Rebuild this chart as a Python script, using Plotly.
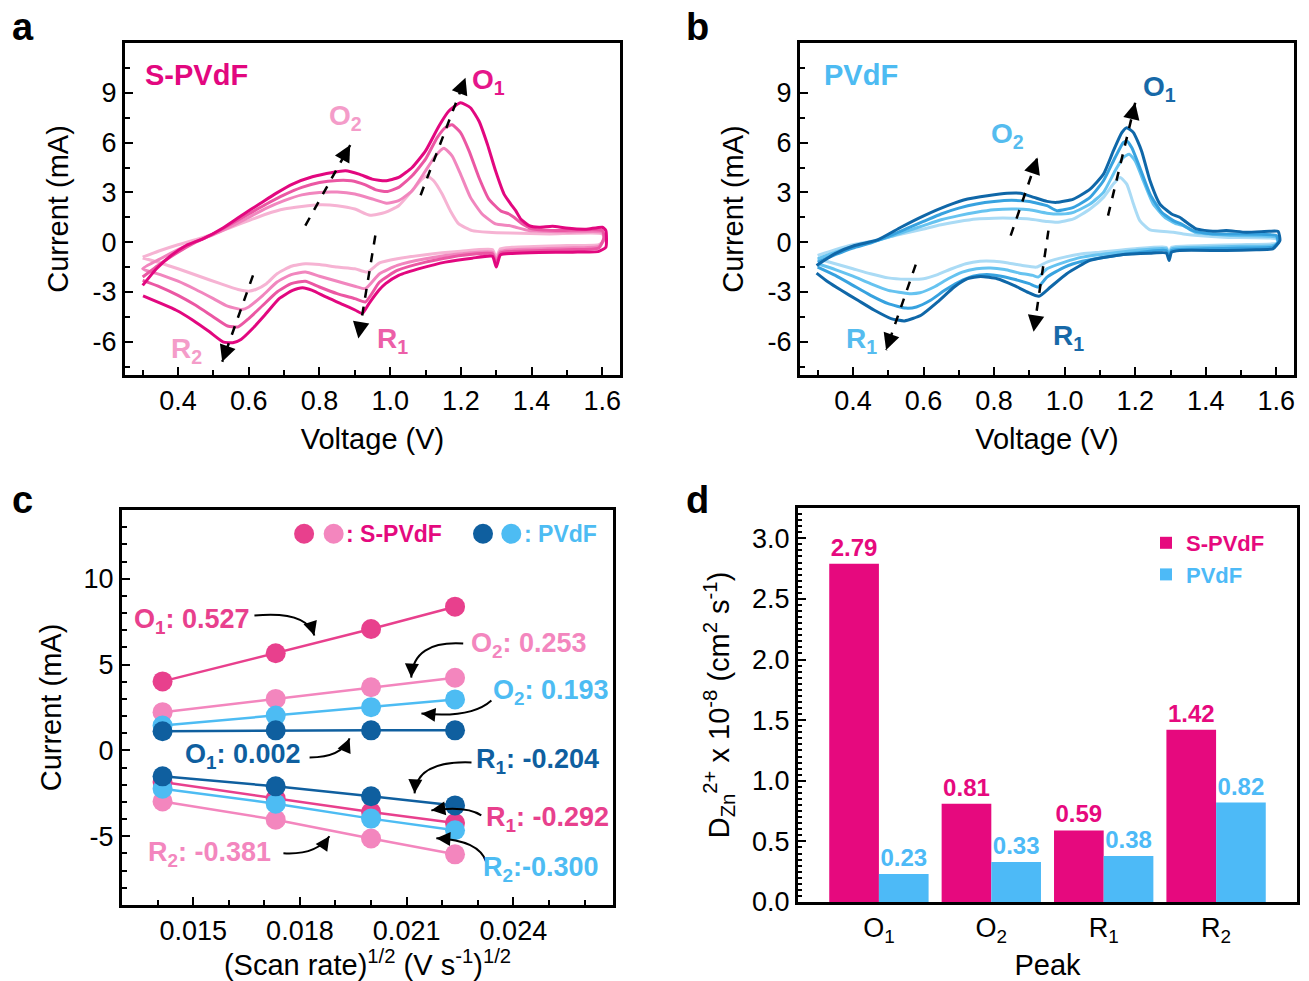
import plotly.graph_objects as go

FONT = "Liberation Sans, Arial, Helvetica, sans-serif"

# ---------------- Panel a : S-PVdF cyclic voltammograms (V, mA) ----------------
a_curve_02 = [(0.300, -0.9), (0.350, -0.5), (0.400, -0.15), (0.450, 0.15), (0.500, 0.5), (0.550, 0.9),
              (0.600, 1.3), (0.650, 1.7), (0.700, 2.0), (0.750, 2.15), (0.800, 2.25), (0.850, 2.2),
              (0.900, 2.0), (0.943, 1.62), (0.986, 1.8), (1.024, 2.2), (1.062, 3.1), (1.090, 3.8),
              (1.104, 4.0), (1.123, 3.7), (1.147, 2.9), (1.170, 1.9), (1.194, 1.1), (1.232, 0.7),
              (1.279, 0.6), (1.340, 0.55), (1.450, 0.5), (1.600, 0.5),
              (1.605, 0.1), (1.590, -0.15), (1.500, -0.2), (1.350, -0.3), (1.312, -0.4), (1.300, -0.9),
              (1.289, -0.45), (1.200, -0.55), (1.100, -0.75), (1.020, -1.0), (0.970, -1.25), (0.935, -1.8),
              (0.900, -1.6), (0.850, -1.5), (0.800, -1.35), (0.760, -1.3), (0.720, -1.45), (0.680, -1.9),
              (0.650, -2.5), (0.620, -2.85), (0.600, -2.95), (0.570, -2.85), (0.520, -2.5), (0.460, -2.05),
              (0.400, -1.6), (0.350, -1.25), (0.300, -0.95)]
a_curve_03 = [(0.300, -1.6), (0.350, -1.0), (0.400, -0.45), (0.450, 0.05), (0.500, 0.45), (0.550, 0.95),
              (0.600, 1.5), (0.650, 2.05), (0.700, 2.5), (0.750, 2.85), (0.800, 3.0), (0.850, 3.02),
              (0.900, 2.9), (0.950, 2.6), (0.990, 2.35), (1.024, 2.5), (1.062, 3.1), (1.100, 4.3),
              (1.128, 5.2), (1.152, 5.66), (1.175, 5.2), (1.199, 4.1), (1.227, 2.7), (1.260, 1.7),
              (1.298, 1.1), (1.336, 1.0), (1.355, 0.9), (1.393, 0.7), (1.500, 0.62), (1.600, 0.6),
              (1.605, 0.2), (1.590, -0.25), (1.500, -0.35), (1.350, -0.45), (1.312, -0.55), (1.300, -1.1),
              (1.289, -0.6), (1.200, -0.7), (1.100, -1.0), (1.020, -1.4), (0.970, -1.9), (0.930, -2.8),
              (0.900, -2.65), (0.850, -2.35), (0.800, -2.05), (0.760, -1.8), (0.720, -1.95), (0.680, -2.4),
              (0.640, -3.2), (0.600, -3.9), (0.580, -4.05), (0.540, -3.85), (0.500, -3.4), (0.450, -2.85),
              (0.400, -2.35), (0.350, -1.95), (0.300, -1.6)]
a_curve_04 = [(0.300, -2.1), (0.350, -1.3), (0.400, -0.6), (0.450, 0.0), (0.500, 0.5), (0.550, 1.1),
              (0.600, 1.7), (0.650, 2.3), (0.700, 2.85), (0.750, 3.3), (0.800, 3.6), (0.850, 3.72),
              (0.890, 3.7), (0.930, 3.45), (0.960, 3.15), (0.990, 3.05), (1.024, 3.3), (1.062, 4.0),
              (1.100, 5.0), (1.133, 6.3), (1.156, 6.9), (1.175, 7.07), (1.199, 6.6), (1.223, 5.5),
              (1.251, 3.9), (1.279, 2.6), (1.312, 1.9), (1.336, 1.7), (1.350, 1.5), (1.374, 1.1),
              (1.402, 0.8), (1.468, 0.7), (1.600, 0.7),
              (1.605, 0.3), (1.590, -0.35), (1.500, -0.45), (1.350, -0.55), (1.312, -0.65), (1.300, -1.3),
              (1.289, -0.7), (1.200, -0.8), (1.100, -1.2), (1.020, -1.7), (0.970, -2.4), (0.930, -3.6),
              (0.900, -3.4), (0.850, -3.1), (0.800, -2.7), (0.760, -2.35), (0.720, -2.5), (0.680, -3.0),
              (0.640, -3.8), (0.600, -4.6), (0.570, -5.1), (0.540, -5.05), (0.500, -4.5), (0.450, -3.8),
              (0.400, -3.2), (0.350, -2.7), (0.300, -2.3)]
a_curve_05 = [(0.300, -2.6), (0.339, -1.6), (0.377, -0.86), (0.423, -0.2), (0.470, 0.2), (0.527, 0.86),
              (0.583, 1.66), (0.630, 2.3), (0.677, 2.94), (0.724, 3.5), (0.780, 3.94), (0.837, 4.2),
              (0.874, 4.3), (0.912, 4.1), (0.949, 3.8), (0.986, 3.7), (1.024, 3.9), (1.062, 4.5),
              (1.100, 5.5), (1.138, 7.0), (1.166, 7.9), (1.199, 8.4), (1.227, 8.1), (1.251, 7.3),
              (1.275, 5.9), (1.298, 4.3), (1.322, 2.9), (1.341, 2.3), (1.355, 1.9), (1.369, 1.4),
              (1.393, 1.0), (1.421, 0.9), (1.459, 0.96), (1.497, 0.85), (1.554, 0.78), (1.600, 0.9),
              (1.610, 0.7), (1.610, -0.3), (1.590, -0.55), (1.516, -0.6), (1.421, -0.62), (1.345, -0.68),
              (1.312, -0.76), (1.300, -1.5), (1.289, -0.85), (1.232, -0.96), (1.156, -1.2), (1.090, -1.55),
              (1.024, -2.0), (0.987, -2.5), (0.968, -2.9), (0.940, -3.7), (0.921, -4.3), (0.902, -4.1),
              (0.865, -3.74), (0.818, -3.3), (0.780, -2.9), (0.752, -2.74), (0.724, -2.9), (0.686, -3.4),
              (0.649, -4.3), (0.611, -5.2), (0.578, -5.86), (0.555, -6.06), (0.527, -6.0), (0.489, -5.4),
              (0.442, -4.7), (0.395, -4.1), (0.348, -3.66), (0.301, -3.24)]

# ---------------- Panel b : PVdF cyclic voltammograms (V, mA) ----------------
b_curve_02 = [(0.300, -0.8), (0.350, -0.45), (0.400, -0.15), (0.450, 0.05), (0.500, 0.3), (0.550, 0.55),
              (0.600, 0.8), (0.650, 1.05), (0.700, 1.25), (0.750, 1.4), (0.800, 1.45), (0.850, 1.45),
              (0.900, 1.4), (0.950, 1.25), (0.978, 1.2), (1.025, 1.4), (1.072, 2.0), (1.110, 2.7),
              (1.138, 3.5), (1.157, 3.9), (1.176, 3.5), (1.195, 2.3), (1.213, 1.3), (1.242, 0.74),
              (1.308, 0.6), (1.336, 0.5), (1.450, 0.3), (1.600, 0.2),
              (1.605, -0.05), (1.590, -0.1), (1.500, -0.15), (1.400, -0.2), (1.303, -0.3), (1.296, -0.65),
              (1.288, -0.3), (1.200, -0.4), (1.100, -0.6), (1.050, -0.7), (1.000, -0.9), (0.950, -1.2),
              (0.920, -1.5), (0.880, -1.4), (0.840, -1.25), (0.800, -1.15), (0.760, -1.15), (0.720, -1.3),
              (0.680, -1.6), (0.640, -1.95), (0.600, -2.2), (0.550, -2.23), (0.500, -2.15), (0.450, -1.9),
              (0.400, -1.6), (0.350, -1.3), (0.300, -1.0)]
b_curve_03 = [(0.300, -1.0), (0.350, -0.6), (0.400, -0.25), (0.450, 0.0), (0.500, 0.3), (0.550, 0.65),
              (0.600, 1.0), (0.650, 1.35), (0.700, 1.6), (0.750, 1.8), (0.800, 1.95), (0.850, 2.0),
              (0.900, 1.95), (0.950, 1.75), (0.990, 1.7), (1.025, 1.8), (1.072, 2.3), (1.110, 3.0),
              (1.143, 4.3), (1.166, 5.1), (1.183, 5.3), (1.200, 4.9), (1.223, 3.7), (1.251, 2.3),
              (1.284, 1.5), (1.317, 1.1), (1.336, 1.0), (1.369, 0.6), (1.480, 0.4), (1.600, 0.3),
              (1.605, -0.05), (1.590, -0.2), (1.500, -0.25), (1.400, -0.3), (1.303, -0.4), (1.296, -0.8),
              (1.288, -0.4), (1.200, -0.5), (1.100, -0.75), (1.050, -0.9), (1.000, -1.2), (0.950, -1.6),
              (0.925, -2.1), (0.910, -2.0), (0.870, -1.85), (0.830, -1.65), (0.790, -1.55), (0.750, -1.6),
              (0.710, -1.8), (0.670, -2.2), (0.630, -2.7), (0.590, -3.05), (0.560, -3.1), (0.500, -2.9),
              (0.450, -2.5), (0.400, -2.05), (0.350, -1.65), (0.300, -1.3)]
b_curve_04 = [(0.300, -1.2), (0.350, -0.75), (0.400, -0.35), (0.450, -0.05), (0.500, 0.35), (0.550, 0.8),
              (0.600, 1.25), (0.650, 1.7), (0.700, 2.05), (0.750, 2.3), (0.800, 2.45), (0.850, 2.52),
              (0.900, 2.45), (0.950, 2.2), (0.978, 1.9), (1.025, 2.1), (1.072, 2.7), (1.110, 3.7),
              (1.143, 5.1), (1.166, 6.0), (1.176, 6.1), (1.190, 5.7), (1.213, 4.5), (1.242, 2.9),
              (1.275, 1.8), (1.308, 1.3), (1.330, 1.1), (1.364, 0.7), (1.420, 0.5), (1.600, 0.4),
              (1.605, 0.0), (1.590, -0.3), (1.500, -0.35), (1.400, -0.4), (1.303, -0.5), (1.296, -0.95),
              (1.288, -0.5), (1.200, -0.65), (1.100, -0.95), (1.050, -1.15), (1.000, -1.5), (0.950, -2.1),
              (0.925, -2.7), (0.900, -2.5), (0.860, -2.25), (0.820, -2.05), (0.780, -1.95), (0.740, -2.05),
              (0.700, -2.4), (0.660, -2.9), (0.620, -3.5), (0.580, -3.9), (0.550, -3.97), (0.500, -3.7),
              (0.450, -3.2), (0.400, -2.6), (0.350, -2.0), (0.300, -1.5)]
b_curve_05 = [(0.297, -1.4), (0.348, -0.7), (0.405, -0.2), (0.470, 0.14), (0.536, 0.9), (0.602, 1.6),
              (0.668, 2.2), (0.725, 2.6), (0.781, 2.8), (0.837, 2.95), (0.875, 2.95), (0.913, 2.7),
              (0.950, 2.46), (0.978, 2.4), (1.025, 2.6), (1.072, 3.2), (1.110, 4.1), (1.138, 5.5),
              (1.162, 6.6), (1.176, 6.9), (1.195, 6.6), (1.218, 5.5), (1.242, 3.7), (1.270, 2.3),
              (1.303, 1.7), (1.326, 1.5), (1.345, 1.2), (1.373, 0.8), (1.420, 0.66), (1.458, 0.7),
              (1.515, 0.6), (1.580, 0.66), (1.605, 0.65),
              (1.610, 0.1), (1.590, -0.4), (1.543, -0.46), (1.458, -0.5), (1.326, -0.5), (1.303, -0.6),
              (1.296, -1.1), (1.288, -0.65), (1.242, -0.66), (1.166, -0.74), (1.072, -1.1), (1.006, -1.9),
              (0.960, -2.7), (0.927, -3.26), (0.894, -3.0), (0.856, -2.6), (0.809, -2.2), (0.762, -2.06),
              (0.725, -2.2), (0.687, -2.7), (0.640, -3.6), (0.593, -4.4), (0.546, -4.74), (0.508, -4.6),
              (0.461, -4.1), (0.414, -3.5), (0.367, -2.9), (0.330, -2.4), (0.297, -1.86)]

a_colors = ["#F6B3D3", "#F186BE", "#EB57A3", "#E2077F"]
b_colors = ["#AADBF5", "#66C3F0", "#37A2DF", "#0F67A8"]

# ---------------- Panel c : peak current vs sqrt(scan rate) ----------------
scan_sqrt = [0.01414, 0.01732, 0.02000, 0.02236]
s_O1 = [4.02, 5.66, 7.07, 8.37]
s_O2 = [2.23, 3.00, 3.68, 4.23]
s_R1 = [-1.84, -2.81, -3.59, -4.23]
s_R2 = [-2.97, -4.03, -5.13, -6.05]
p_O1 = [1.12, 1.17, 1.17, 1.17]
p_O2 = [1.45, 2.03, 2.52, 2.97]
p_R1 = [-1.51, -2.09, -2.67, -3.20]
p_R2 = [-2.23, -3.10, -3.97, -4.65]
S_DARK, S_LIGHT, P_DARK, P_LIGHT = "#E8408D", "#F386BE", "#0F5F9F", "#4DBCF3"

# ---------------- Panel d : diffusion coefficients ----------------
peaks = ["O1", "O2", "R1", "R2"]
peak_labels = ["O<sub>1</sub>", "O<sub>2</sub>", "R<sub>1</sub>", "R<sub>2</sub>"]
d_spvdf = [2.79, 0.81, 0.59, 1.42]
d_pvdf = [0.23, 0.33, 0.38, 0.82]
D_PINK, D_BLUE = "#E6097E", "#4DBAF7"

fig = go.Figure()

for curve, col in zip([a_curve_02, a_curve_03, a_curve_04, a_curve_05], a_colors):
    v, i = zip(*curve)
    fig.add_trace(go.Scatter(x=list(v), y=list(i), mode="lines", xaxis="x", yaxis="y", showlegend=False,
                             line=dict(color=col, width=3, shape="spline", smoothing=0.5)))
for curve, col in zip([b_curve_02, b_curve_03, b_curve_04, b_curve_05], b_colors):
    v, i = zip(*curve)
    fig.add_trace(go.Scatter(x=list(v), y=list(i), mode="lines", xaxis="x2", yaxis="y2", showlegend=False,
                             line=dict(color=col, width=3, shape="spline", smoothing=0.5)))

for ys, col in [(s_O2, S_LIGHT), (s_R2, S_LIGHT), (s_O1, S_DARK), (s_R1, S_DARK),
                (p_O2, P_LIGHT), (p_R2, P_LIGHT), (p_O1, P_DARK), (p_R1, P_DARK)]:
    fig.add_trace(go.Scatter(x=scan_sqrt, y=ys, mode="lines+markers", xaxis="x3", yaxis="y3", showlegend=False,
                             line=dict(color=col, width=2.5), marker=dict(color=col, size=20)))

fig.add_trace(go.Bar(x=peaks, y=d_spvdf, name='<span style="color:#E6097E"><b>S-PVdF</b></span>',
                     marker=dict(color=D_PINK, line=dict(width=0)), xaxis="x4", yaxis="y4",
                     texttemplate="<b>%{y:.2f}</b>", textposition="outside", cliponaxis=False,
                     constraintext="none", textfont=dict(color=D_PINK, size=24, family=FONT)))
fig.add_trace(go.Bar(x=peaks, y=d_pvdf, name='<span style="color:#4DBAF7"><b>PVdF</b></span>',
                     marker=dict(color=D_BLUE, line=dict(width=0)), xaxis="x4", yaxis="y4",
                     texttemplate="<b>%{y:.2f}</b>", textposition="outside", cliponaxis=False,
                     constraintext="none", textfont=dict(color=D_BLUE, size=24, family=FONT)))


def ax(domain, anchor, rng, title, standoff, **kw):
    d = dict(domain=domain, anchor=anchor, range=rng, showline=True, linecolor="black", linewidth=3,
             mirror=True, ticks="inside", ticklen=8, tickwidth=2, tickcolor="black", showgrid=False,
             zeroline=False, automargin=False,
             tickfont=dict(family=FONT, size=27, color="black"),
             title=dict(text=title, font=dict(family=FONT, size=29, color="black"), standoff=standoff))
    d.update(kw)
    return d


W, H = 1309, 981
def px(x0, x1):
    return [x0 / W, x1 / W]
def py(top, bottom):
    return [1 - bottom / H, 1 - top / H]

cv_x = dict(tick0=0.4, dtick=0.2, tickformat=".1f", minor=dict(dtick=0.1, ticklen=5, tickwidth=2, ticks="inside"))
cv_y = dict(tickvals=[-6, -3, 0, 3, 6, 9], ticktext=["-6", "-3", "0", "3", "6", "9"],
            minor=dict(tickvals=[-7.5, -4.5, -1.5, 1.5, 4.5, 7.5, 10.5], ticklen=5, tickwidth=2, ticks="inside"))

fig.update_layout(
    width=W, height=H, margin=dict(l=0, r=0, t=0, b=0), paper_bgcolor="white", plot_bgcolor="white",
    font=dict(family=FONT, color="black"),
    bargap=0.116, barmode="group",
    xaxis=ax(px(125, 620), "y", [0.25, 1.65], "Voltage (V)", 14, **cv_x),
    yaxis=ax(py(43, 375), "x", [-8, 12], "Current (mA)", 16, **cv_y),
    xaxis2=ax(px(800, 1294), "y2", [0.25, 1.65], "Voltage (V)", 14, **cv_x),
    yaxis2=ax(py(43, 375), "x2", [-8, 12], "Current (mA)", 16, **cv_y),
    xaxis3=ax(px(122, 613), "y3", [0.0130, 0.0268], "(Scan rate)<sup>1/2</sup> (V s<sup>-1</sup>)<sup>1/2</sup>", 12,
              tick0=0.015, dtick=0.003, tickformat=".3f",
              minor=dict(dtick=0.001, ticklen=5, tickwidth=2, ticks="inside")),
    yaxis3=ax(py(510, 905), "x3", [-9, 14], "Current (mA)", 14,
              tickvals=[-5, 0, 5, 10], ticktext=["-5", "0", "5", "10"],
              minor=dict(dtick=1, ticklen=5, tickwidth=2, ticks="inside")),
    xaxis4=ax(px(798, 1297), "y4", [-0.72, 3.72], "Peak", 12, type="category", ticks="",
              tickvals=peaks, ticktext=peak_labels),
    yaxis4=ax(py(508, 902), "x4", [0, 3.25],
              "D<sub>Zn</sub><sup>2+</sup> x 10<sup>-8</sup> (cm<sup>2</sup> s<sup>-1</sup>)", 14,
              dtick=0.5, tickformat=".1f",
              minor=dict(dtick=0.05, ticklen=4, tickwidth=1.5, ticks="inside")),
    legend=dict(x=1146 / W, y=1 - 522 / H, xanchor="left", yanchor="top", bgcolor="rgba(0,0,0,0)",
                font=dict(family=FONT, size=22), itemclick=False, tracegroupgap=0),
)

ann = []
shapes = []

# panel letters
for txt, X, Y in [("a", 10, 27), ("b", 684, 27), ("c", 10, 500), ("d", 684, 500)]:
    ann.append(dict(text="<b>%s</b>" % txt, x=X / W, y=1 - Y / H, xref="paper", yref="paper",
                    xanchor="left", yanchor="middle", showarrow=False,
                    font=dict(family=FONT, size=38, color="black")))

def label(text, x, y, xr, yr, color, size=28, xanchor="center"):
    ann.append(dict(text="<b>%s</b>" % text, x=x, y=y, xref=xr, yref=yr, xanchor=xanchor, yanchor="middle",
                    showarrow=False, font=dict(family=FONT, size=size, color=color)))

def dashed_arrow(x0, y0, x1, y1, hx, hy, xr, yr):
    shapes.append(dict(type="line", xref=xr, yref=yr, x0=x0, y0=y0, x1=x1, y1=y1,
                       line=dict(color="black", width=2.5, dash="dash")))
    ann.append(dict(text="", x=x1, y=y1, xref=xr, yref=yr, ax=hx, ay=hy, showarrow=True,
                    arrowhead=2, arrowsize=1.5, arrowwidth=2.2, arrowcolor="black"))

# panel a texts & arrows
label("S-PVdF", 0.302, 10.1, "x", "y", "#E2077F", size=29, xanchor="left")
label("O<sub>1</sub>", 1.278, 9.7, "x", "y", "#E5168A")
label("O<sub>2</sub>", 0.873, 7.5, "x", "y", "#F49CC9")
label("R<sub>1</sub>", 1.006, -5.9, "x", "y", "#EC5FA8")
label("R<sub>2</sub>", 0.423, -6.5, "x", "y", "#F49CC9")
dashed_arrow(1.086, 2.83, 1.213, 9.9, -4.3, 11.2, "x", "y")
dashed_arrow(0.760, 1.0, 0.887, 5.85, -5.9, 10.5, "x", "y")
dashed_arrow(0.958, 0.4, 0.910, -5.8, 2.0, -11.8, "x", "y")
dashed_arrow(0.612, -2.0, 0.525, -7.2, 4.0, -11.3, "x", "y")

# panel b texts & arrows
label("PVdF", 0.311, 10.06, "x2", "y2", "#4DBBF2", size=29, xanchor="left")
label("O<sub>1</sub>", 1.270, 9.28, "x2", "y2", "#1769A8")
label("O<sub>2</sub>", 0.838, 6.45, "x2", "y2", "#55BCEF")
label("R<sub>1</sub>", 0.423, -5.9, "x2", "y2", "#55BCEF")
label("R<sub>1</sub>", 1.010, -5.72, "x2", "y2", "#1769A8")
dashed_arrow(1.123, 1.6, 1.200, 8.4, -2.8, 11.7, "x2", "y2")
dashed_arrow(0.847, 0.4, 0.923, 5.1, -3.9, 11.3, "x2", "y2")
dashed_arrow(0.954, 0.7, 0.912, -5.4, 1.8, -11.9, "x2", "y2")
dashed_arrow(0.578, -1.35, 0.494, -6.5, 3.9, -11.3, "x2", "y2")

# panel c legend (circles + text)
for xc, col in [(0.018118, S_DARK), (0.018949, S_LIGHT), (0.023146, P_DARK), (0.023941, P_LIGHT)]:
    shapes.append(dict(type="circle", xref="x3", yref="y3", xsizemode="pixel", ysizemode="pixel",
                       xanchor=xc, yanchor=12.62, x0=-10, x1=10, y0=-10, y1=10,
                       fillcolor=col, line=dict(width=0)))
label(": S-PVdF", 0.019250, 12.62, "x3", "y3", "#E4097E", size=23, xanchor="left")
label(": PVdF", 0.024250, 12.62, "x3", "y3", P_LIGHT, size=23, xanchor="left")

# panel c slope labels
label("O<sub>1</sub>: 0.527", 0.01498, 7.56, "x3", "y3", S_DARK, size=27)
label("O<sub>2</sub>: 0.253", 0.02445, 6.16, "x3", "y3", S_LIGHT, size=27)
label("O<sub>2</sub>: 0.193", 0.02507, 3.43, "x3", "y3", P_LIGHT, size=27)
label("O<sub>1</sub>: 0.002", 0.01641, -0.35, "x3", "y3", P_DARK, size=27)
label("R<sub>1</sub>: -0.204", 0.02467, -0.64, "x3", "y3", P_DARK, size=27)
label("R<sub>1</sub>: -0.292", 0.02495, -4.01, "x3", "y3", S_DARK, size=27)
label("R<sub>2</sub>: -0.381", 0.01546, -6.05, "x3", "y3", S_LIGHT, size=27)
label("R<sub>2</sub>:-0.300", 0.02478, -6.92, "x3", "y3", P_LIGHT, size=27)

# curved arrows in c: (start, control, end, head offset px)
for (x0, y0), (cx, cy), (x1, y1), (hx, hy) in [
    ((0.016722, 7.85), (0.018183, 8.14), (0.018407, 6.69), (-3.0, -9.5)),
    ((0.022590, 6.22), (0.021185, 6.40), (0.021129, 4.24), (0.5, -10)),
    ((0.023382, 2.91), (0.022820, 1.86), (0.021416, 2.15), (10, 1)),
    ((0.018272, -0.41), (0.019171, -0.41), (0.019396, 0.70), (-3.9, 9.2)),
    ((0.022823, -0.70), (0.021278, -0.58), (0.021222, -2.50), (0.6, -10)),
    ((0.023098, -3.78), (0.022677, -3.20), (0.021694, -3.49), (9.9, -1.4)),
    ((0.017537, -5.99), (0.018463, -6.10), (0.018829, -5.00), (-5.6, 8.2)),
    ((0.023239, -6.51), (0.023042, -5.23), (0.021835, -5.12), (10, 0.5)),
]:
    shapes.append(dict(type="path", xref="x3", yref="y3",
                       path="M %f,%f Q %f,%f %f,%f" % (x0, y0, cx, cy, x1, y1),
                       line=dict(color="black", width=2)))
    ann.append(dict(text="", x=x1, y=y1, xref="x3", yref="y3", ax=hx, ay=hy, showarrow=True,
                    arrowhead=2, arrowsize=1.4, arrowwidth=2, arrowcolor="black"))

fig.update_layout(annotations=ann, shapes=shapes)
fig.write_html("out.html", config={"displayModeBar": False, "staticPlot": False},
               post_script="document.body.style.margin='0px';document.body.style.overflow='hidden';")
